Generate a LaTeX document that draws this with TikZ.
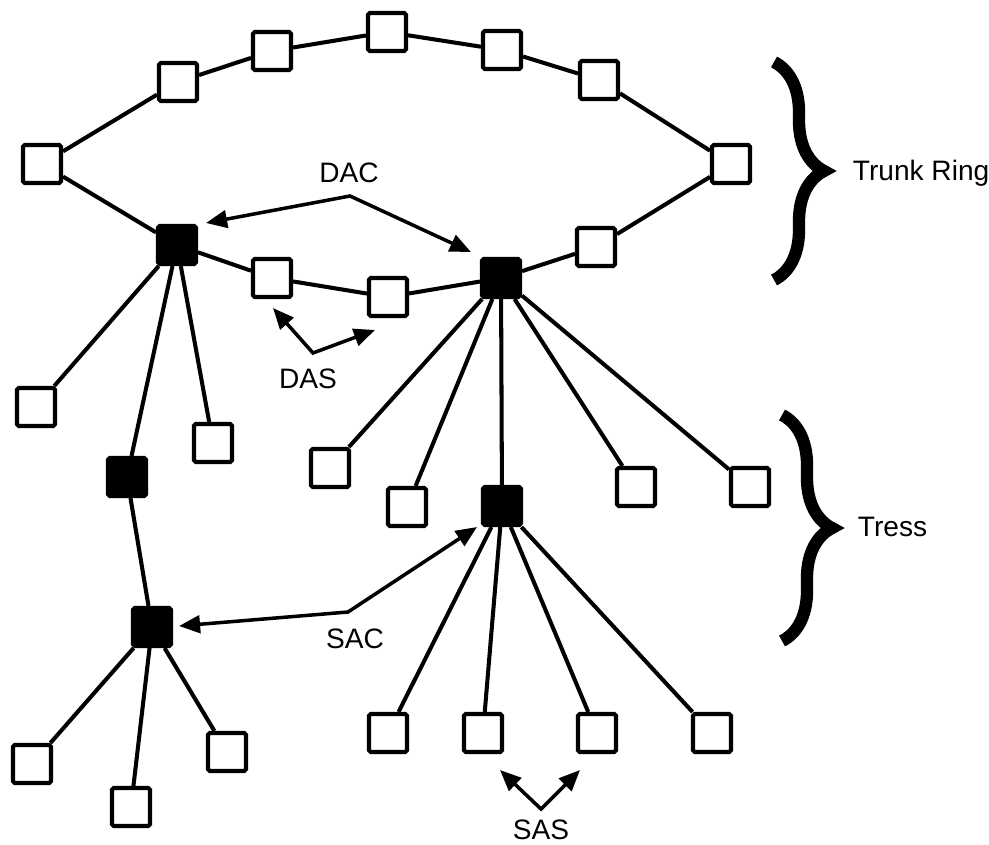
\documentclass[tikz,border=0pt]{standalone}
\usepackage{fontspec}
\setmainfont{Liberation Sans}
\usetikzlibrary{arrows.meta, decorations.pathreplacing}

\begin{document}
\begin{tikzpicture}[x=0.02cm, y=-0.02cm, line width=2.3pt,
    station/.style={draw, fill=white, minimum size=0.76cm, inner sep=0pt, rounded corners=1pt},
    conc/.style={station, fill=black},
    lbl/.style={font=\fontsize{16}{19}\selectfont},
    ptr/.style={line width=2pt, {Triangle[length=12pt, width=10pt]}-{Triangle[length=12pt, width=10pt]}},
    bigbrace/.style={decorate, decoration={brace, amplitude=1.0cm}, line width=7pt}]
  \useasboundingbox (0,0) rectangle (989,844);

  % Trunk ring stations
  \node[station] (r1) at (42,164) {};
  \node[station] (r2) at (178,82) {};
  \node[station] (r3) at (272,51) {};
  \node[station] (r4) at (387,32) {};
  \node[station] (r5) at (502,50) {};
  \node[station] (r6) at (599,80) {};
  \node[station] (r7) at (731,164) {};
  \node[station] (r8) at (596,247) {};
  \node[conc] (dacR) at (501,278) {};
  \node[station] (das2) at (388,297) {};
  \node[station] (das1) at (272,278) {};
  \node[conc] (dacL) at (177,245) {};

  % Left tree
  \node[station] (l1) at (36,407) {};
  \node[station] (l2) at (213,443) {};
  \node[conc] (sacA) at (127,477) {};
  \node[conc] (sacB) at (152,627) {};
  \node[station] (l3) at (32,764) {};
  \node[station] (l4) at (131,807) {};
  \node[station] (l5) at (227,752) {};

  % Right tree
  \node[station] (m1) at (330,468) {};
  \node[station] (m2) at (407,507) {};
  \node[conc] (sacR) at (502,506) {};
  \node[station] (m3) at (636,487) {};
  \node[station] (m4) at (750,487) {};
  \node[station] (n1) at (388,733) {};
  \node[station] (n2) at (483,733) {};
  \node[station] (n3) at (597,733) {};
  \node[station] (n4) at (712,733) {};

  % Links
  \foreach \a/\b in {r1/r2, r2/r3, r3/r4, r4/r5, r5/r6, r6/r7, r7/r8, r8/dacR,
      dacR/das2, das2/das1, das1/dacL, dacL/r1,
      dacL/l1, dacL/l2, dacL/sacA, sacA/sacB, sacB/l3, sacB/l4, sacB/l5,
      dacR/m1, dacR/m2, dacR/sacR, dacR/m3, dacR/m4,
      sacR/n1, sacR/n2, sacR/n3, sacR/n4}
    \draw (\a) -- (\b);

  % Labels with pointers
  \node[lbl] (dac) at (349,173) {DAC};
  \coordinate (dacE) at (350,196);
  \coordinate (dacTL) at (206,223);
  \coordinate (dacTR) at (471,252);
  \draw[ptr] (dacTL) -- (dacE) -- (dacTR);

  \node[lbl] (das) at (308,379) {DAS};
  \coordinate (dasE) at (313,353);
  \coordinate (dasTL) at (273,308);
  \coordinate (dasTR) at (375,330);
  \draw[ptr] (dasTL) -- (dasE) -- (dasTR);

  \node[lbl] (sac) at (355,639) {SAC};
  \coordinate (sacE) at (348,612);
  \coordinate (sacTL) at (179,626);
  \coordinate (sacTR) at (477,527);
  \draw[ptr] (sacTL) -- (sacE) -- (sacTR);

  \node[lbl] (sas) at (541,830) {SAS};
  \coordinate (sasE) at (541,809);
  \coordinate (sasTL) at (500,770);
  \coordinate (sasTR) at (580,770);
  \draw[ptr] (sasTL) -- (sasE) -- (sasTR);

  % Braces
  \draw[bigbrace] (774,62) -- (774,280);
  \node[lbl, anchor=west] (trunk) at (845,173) {Trunk Ring};
  \draw[bigbrace] (782,415) -- (782,641);
  \node[lbl, anchor=west] (tress) at (850,527) {Tress};
\end{tikzpicture}
\end{document}
